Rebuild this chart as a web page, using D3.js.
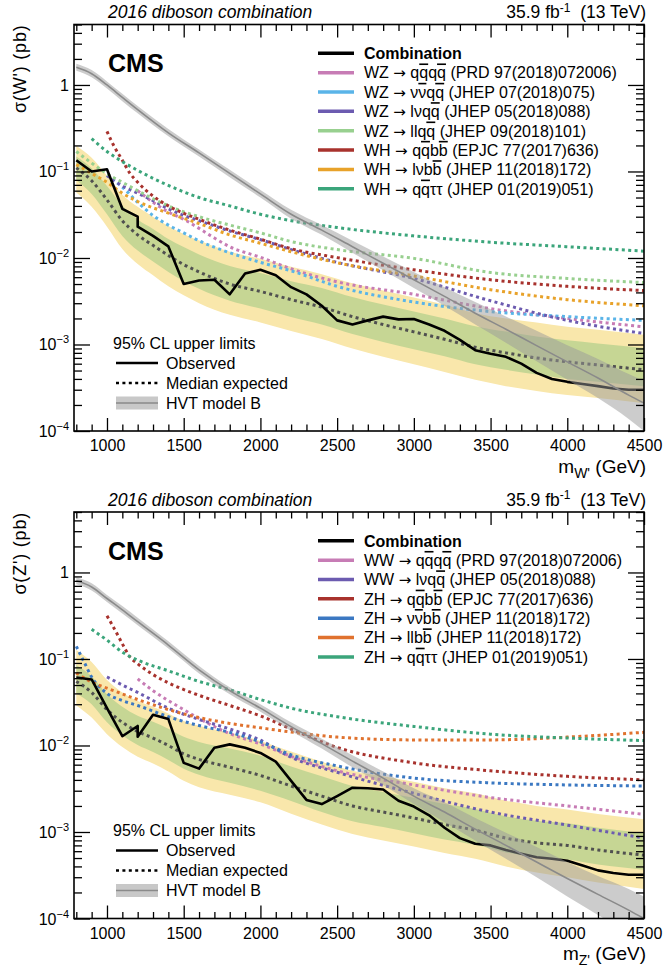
<!DOCTYPE html>
<html>
<head>
<meta charset="utf-8">
<script src="https://cdn.jsdelivr.net/npm/d3@7"></script>
<style>
body { margin: 0; background: #fff; }
svg { display: block; }
text { font-family: "Liberation Sans", Arial, Helvetica, sans-serif; fill: #000; }
</style>
</head>
<body>
<div id="chart"></div>
<script>
// ---- expected limits and bands (common mass grid, GeV) ----
var massGrid = [800, 900, 1000, 1100, 1200, 1300, 1400, 1500, 1600, 1800, 2000, 2200, 2400, 2600, 2800, 3000, 3200, 3400, 3600, 3800, 4000, 4200, 4500];

var wExp   = [0.11, 0.078, 0.047, 0.027, 0.0185, 0.014, 0.0107, 0.0084, 0.0069, 0.005, 0.0041, 0.0033, 0.0027, 0.0021, 0.0017, 0.0014, 0.00115, 0.00093, 0.0008, 0.0007, 0.00063, 0.00058, 0.00051];
var wExpP2 = [0.198, 0.144, 0.089, 0.054, 0.039, 0.030, 0.0235, 0.0189, 0.0159, 0.0118, 0.0098, 0.0079, 0.0065, 0.0051, 0.0042, 0.0035, 0.0029, 0.0023, 0.002, 0.00179, 0.0016, 0.00148, 0.0013];
var wExpP1 = [0.149, 0.109, 0.068, 0.0405, 0.0278, 0.0217, 0.0166, 0.0134, 0.011, 0.0081, 0.0067, 0.0054, 0.0045, 0.00353, 0.00289, 0.00241, 0.002, 0.00163, 0.00141, 0.00124, 0.00112, 0.00103, 0.00091];
var wExpM1 = [0.079, 0.055, 0.032, 0.018, 0.0122, 0.0091, 0.0069, 0.0054, 0.0044, 0.0032, 0.0026, 0.00208, 0.0017, 0.00132, 0.00107, 0.00088, 0.00073, 0.00059, 0.00051, 0.00045, 0.0004, 0.00037, 0.00033];
var wExpM2 = [0.057, 0.039, 0.023, 0.0127, 0.0085, 0.0063, 0.0047, 0.0037, 0.003, 0.0022, 0.0018, 0.00143, 0.00116, 0.0009, 0.00072, 0.00059, 0.00048, 0.00039, 0.00033, 0.00029, 0.00026, 0.00024, 0.00021];

var zExp   = [0.055, 0.041, 0.026, 0.0185, 0.0145, 0.0122, 0.01, 0.008, 0.0069, 0.0056, 0.0045, 0.0034, 0.0026, 0.002, 0.0017, 0.00145, 0.00122, 0.00105, 0.00085, 0.00075, 0.0007, 0.00062, 0.00054];
var zExpP2 = [0.127, 0.092, 0.057, 0.041, 0.0326, 0.028, 0.0235, 0.0192, 0.0169, 0.014, 0.0113, 0.0085, 0.0065, 0.0051, 0.0044, 0.0038, 0.0032, 0.0028, 0.0023, 0.002, 0.00182, 0.00161, 0.0014];
var zExpP1 = [0.085, 0.063, 0.039, 0.028, 0.022, 0.0188, 0.0156, 0.0126, 0.011, 0.0092, 0.0076, 0.0057, 0.0044, 0.0034, 0.0029, 0.00248, 0.0021, 0.00185, 0.00152, 0.00135, 0.00126, 0.00112, 0.00097];
var zExpM1 = [0.04, 0.03, 0.0185, 0.0131, 0.0101, 0.0084, 0.0068, 0.0054, 0.0046, 0.0037, 0.003, 0.00228, 0.0017, 0.00133, 0.00114, 0.00097, 0.00082, 0.00071, 0.00058, 0.00051, 0.00048, 0.00042, 0.000366];
var zExpM2 = [0.029, 0.021, 0.0135, 0.0096, 0.0074, 0.0062, 0.005, 0.0039, 0.0033, 0.0027, 0.0022, 0.00163, 0.00122, 0.00095, 0.0008, 0.00068, 0.00057, 0.00049, 0.0004, 0.00034, 0.0003, 0.00026, 0.00022];

// ---- observed limits ----
var wObsMass = [800, 900, 1000, 1100, 1200, 1200, 1300, 1400, 1500, 1600, 1700, 1800, 1900, 2000, 2100, 2200, 2300, 2400, 2500, 2600, 2700, 2800, 2900, 3000, 3100, 3200, 3300, 3400, 3500, 3600, 3700, 3800, 3900, 4000, 4100, 4200, 4300, 4400, 4500];
var wObs = [0.135, 0.1, 0.106, 0.037, 0.03, 0.023, 0.018, 0.0136, 0.005, 0.0055, 0.0056, 0.0038, 0.0066, 0.0073, 0.0063, 0.0046, 0.0038, 0.0028, 0.0019, 0.0017, 0.0019, 0.0021, 0.00195, 0.00197, 0.0017, 0.00144, 0.00113, 0.00086, 0.00078, 0.00072, 0.0006, 0.00047, 0.0004, 0.00037, 0.00035, 0.00033, 0.00031, 0.0003, 0.0003];

var zObsMass = [800, 900, 1000, 1100, 1200, 1200, 1300, 1400, 1500, 1600, 1700, 1800, 1900, 2000, 2100, 2200, 2300, 2400, 2500, 2600, 2700, 2800, 2900, 3000, 3100, 3200, 3300, 3400, 3500, 3600, 3700, 3800, 3900, 4000, 4100, 4200, 4300, 4400, 4500];
var zObs = [0.061, 0.058, 0.027, 0.0128, 0.0168, 0.0126, 0.0226, 0.0202, 0.0063, 0.0054, 0.0094, 0.0103, 0.0094, 0.0082, 0.0065, 0.0039, 0.00235, 0.0021, 0.0026, 0.00325, 0.0032, 0.0031, 0.0023, 0.00197, 0.00156, 0.00112, 0.00085, 0.00073, 0.0007, 0.00062, 0.00056, 0.00051, 0.00049, 0.000465, 0.00041, 0.00036, 0.000335, 0.00032, 0.00032];

// ---- HVT model B cross sections ----
var hvtMass = [800, 900, 1000, 1100, 1200, 1400, 1600, 1800, 2000, 2200, 2400, 2600, 2800, 3000, 3200, 3400, 3600, 3800, 4000, 4200, 4400, 4500];
var wHvt   = [1.6, 1.35, 1.0, 0.72, 0.52, 0.28, 0.164, 0.095, 0.055, 0.032, 0.021, 0.0135, 0.0087, 0.0056, 0.0036, 0.0023, 0.0015, 0.00097, 0.00063, 0.00041, 0.00026, 0.00021];
var wHvtHi = [1.76, 1.49, 1.1, 0.79, 0.57, 0.31, 0.18, 0.105, 0.061, 0.036, 0.024, 0.0158, 0.0104, 0.0069, 0.0046, 0.0031, 0.0021, 0.00144, 0.00098, 0.00068, 0.000455, 0.00038];
var wHvtLo = [1.46, 1.23, 0.91, 0.65, 0.47, 0.255, 0.149, 0.086, 0.05, 0.0285, 0.0185, 0.0115, 0.0072, 0.0045, 0.0028, 0.0017, 0.00105, 0.00064, 0.00039, 0.00024, 0.000138, 0.0001];
var zHvt   = [0.8, 0.68, 0.5, 0.37, 0.27, 0.145, 0.075, 0.043, 0.027, 0.0165, 0.0105, 0.0066, 0.0042, 0.0026, 0.0017, 0.00108, 0.0007, 0.00045, 0.00029, 0.00019, 0.000125, 0.0001];
var zHvtHi = [0.88, 0.75, 0.55, 0.41, 0.3, 0.16, 0.083, 0.047, 0.03, 0.0185, 0.012, 0.0077, 0.005, 0.0032, 0.0022, 0.00145, 0.00098, 0.00067, 0.00045, 0.00031, 0.00022, 0.00018];
var zHvtLo = [0.73, 0.62, 0.455, 0.335, 0.245, 0.132, 0.068, 0.039, 0.0245, 0.0147, 0.0092, 0.0056, 0.0035, 0.0021, 0.0013, 0.0008, 0.00049, 0.0003, 0.00018, 0.00011, 0.000066, 0.000048];

// ---- individual channels, W' panel (median expected) ----
var wzQqqqM = [1200, 1300, 1400, 1500, 1600, 1700, 1800, 2000, 2200, 2500, 3000, 3500, 4000, 4500];
var wzQqqqV = [0.06, 0.044, 0.034, 0.028, 0.022, 0.017, 0.0135, 0.0102, 0.0075, 0.0053, 0.0038, 0.0026, 0.002, 0.0016];
var wzNnqqM = [1000, 1100, 1200, 1300, 1400, 1500, 1600, 1800, 2000, 2200, 2500, 3000, 3500, 4000, 4500];
var wzNnqqV = [0.09, 0.066, 0.044, 0.031, 0.024, 0.0195, 0.0158, 0.0115, 0.0089, 0.0071, 0.0047, 0.0031, 0.0024, 0.0021, 0.0019];
var wzLnqqM = [1000, 1100, 1200, 1300, 1400, 1500, 1600, 1800, 2000, 2200, 2500, 3000, 3500, 4000, 4500];
var wzLnqqV = [0.09, 0.068, 0.056, 0.046, 0.037, 0.031, 0.027, 0.0205, 0.0163, 0.0125, 0.0089, 0.0058, 0.0032, 0.0019, 0.00134];
var wzLlqqM = [800, 900, 1000, 1100, 1200, 1400, 1600, 1800, 2000, 2200, 2500, 3000, 3500, 4000, 4500];
var wzLlqqV = [0.17, 0.125, 0.094, 0.075, 0.06, 0.04, 0.03, 0.024, 0.0195, 0.0155, 0.0125, 0.0099, 0.0068, 0.0058, 0.0052];
var whQqbbM = [1000, 1050, 1100, 1150, 1200, 1300, 1400, 1600, 1800, 2000, 2200, 2500, 3000, 3500, 4000, 4500];
var whQqbbV = [0.29, 0.19, 0.135, 0.095, 0.075, 0.052, 0.04, 0.028, 0.021, 0.0165, 0.0128, 0.0101, 0.0073, 0.0056, 0.0047, 0.0042];
var whLnbbM = [800, 900, 1000, 1100, 1200, 1400, 1600, 1800, 2000, 2200, 2500, 3000, 3500, 4000, 4500];
var whLnbbV = [0.12, 0.095, 0.075, 0.056, 0.045, 0.033, 0.025, 0.0185, 0.0148, 0.0118, 0.0088, 0.0062, 0.0043, 0.0033, 0.0028];
var whQqttM = [900, 1000, 1100, 1200, 1400, 1600, 1800, 2000, 2200, 2500, 3000, 3500, 4000, 4500];
var whQqttV = [0.24, 0.17, 0.13, 0.103, 0.069, 0.05, 0.04, 0.032, 0.027, 0.0225, 0.018, 0.0152, 0.0135, 0.012];

// ---- individual channels, Z' panel ----
var wwQqqqM = [1200, 1300, 1400, 1500, 1600, 1800, 2000, 2200, 2500, 3000, 3500, 4000, 4500];
var wwQqqqV = [0.059, 0.043, 0.033, 0.026, 0.0205, 0.0137, 0.0104, 0.0075, 0.0051, 0.0035, 0.0025, 0.002, 0.0016];
var wwLnqqM = [1000, 1100, 1200, 1400, 1600, 1800, 2000, 2200, 2500, 3000, 3500, 4000, 4500];
var wwLnqqV = [0.062, 0.05, 0.041, 0.027, 0.02, 0.0155, 0.0115, 0.0073, 0.0049, 0.0028, 0.0017, 0.0012, 0.00085];
var zhQqbbM = [1000, 1050, 1100, 1150, 1200, 1300, 1400, 1600, 1800, 2000, 2200, 2500, 3000, 3500, 4000, 4500];
var zhQqbbV = [0.315, 0.22, 0.15, 0.105, 0.088, 0.066, 0.053, 0.038, 0.029, 0.022, 0.0155, 0.0095, 0.0063, 0.0051, 0.0044, 0.004];
var zhNnbbM = [800, 850, 900, 1000, 1100, 1200, 1400, 1600, 1800, 2000, 2200, 2500, 3000, 3500, 4000, 4500];
var zhNnbbV = [0.14, 0.093, 0.062, 0.04, 0.033, 0.029, 0.0215, 0.017, 0.0142, 0.011, 0.0078, 0.0058, 0.0042, 0.0037, 0.0035, 0.0034];
var zhLlbbM = [800, 900, 1000, 1200, 1400, 1600, 1800, 2000, 2200, 2500, 3000, 3500, 4000, 4500];
var zhLlbbV = [0.069, 0.054, 0.046, 0.034, 0.026, 0.021, 0.018, 0.016, 0.0143, 0.0125, 0.0116, 0.0116, 0.0125, 0.0142];
var zhQqttM = [900, 1000, 1100, 1200, 1400, 1600, 1800, 2000, 2200, 2500, 3000, 3500, 4000, 4500];
var zhQqttV = [0.22, 0.165, 0.12, 0.097, 0.073, 0.055, 0.044, 0.034, 0.027, 0.0215, 0.0166, 0.0135, 0.0122, 0.0114];

// ---- legend labels / colours (a character followed by \u0304 is drawn with a bar) ----
var wLabels = ["WZ \u2192 qq\u0304qq\u0304 (PRD 97(2018)072006)",
               "WZ \u2192 \u03bd\u03bd\u0304qq\u0304 (JHEP 07(2018)075)",
               "WZ \u2192 l\u03bdqq\u0304 (JHEP 05(2018)088)",
               "WZ \u2192 llqq\u0304 (JHEP 09(2018)101)",
               "WH \u2192 qq\u0304bb\u0304 (EPJC 77(2017)636)",
               "WH \u2192 l\u03bdbb\u0304 (JHEP 11(2018)172)",
               "WH \u2192 qq\u0304\u03c4\u03c4 (JHEP 01(2019)051)"];
var wColors = ["#c77cb5", "#5ab4e8", "#6c5bb0", "#98d08f", "#a8322d", "#e8a22a", "#3ba57b"];
var zLabels = ["WW \u2192 qq\u0304qq\u0304 (PRD 97(2018)072006)",
               "WW \u2192 l\u03bdqq\u0304 (JHEP 05(2018)088)",
               "ZH \u2192 qq\u0304bb\u0304 (EPJC 77(2017)636)",
               "ZH \u2192 \u03bd\u03bd\u0304bb\u0304 (JHEP 11(2018)172)",
               "ZH \u2192 llbb\u0304 (JHEP 11(2018)172)",
               "ZH \u2192 qq\u0304\u03c4\u03c4 (JHEP 01(2019)051)"];
var zColors = ["#c77cb5", "#6c5bb0", "#a8322d", "#3b78c2", "#e0722e", "#3ba57b"];

var xMajor = [1000, 1500, 2000, 2500, 3000, 3500, 4000, 4500];
var yDecades = [1e-4, 1e-3, 1e-2, 1e-1, 1];
var yLabels = ["-4", "-3", "-2", "-1", ""];

// ---------------------------------------------------------------
var width = 665, height = 969;
var svg = d3.select("#chart").append("svg")
  .attr("width", width).attr("height", height);
svg.append("rect").attr("width", width).attr("height", height).attr("fill", "#fff");

var pts = (m, v) => m.map((d, i) => ({m: d, v: v[i]}));

// writes a label into a text node: barred letters get an overline, arrow uses DejaVu
function richText(t, str) {
  var buf = "";
  var flush = () => { if (buf) { t.append("tspan").text(buf); buf = ""; } };
  for (var i = 0; i < str.length; i++) {
    var c = str[i];
    if (str[i + 1] === "\u0304") {
      flush();
      t.append("tspan").style("text-decoration", "overline").text(c);
      i++;
    } else if (c === "\u2192") {
      flush();
      t.append("tspan").style("font-family", "'DejaVu Sans'").style("font-size", "15px").text(c);
    } else {
      buf += c;
    }
  }
  flush();
}

function drawPanel(p) {
  var x = d3.scaleLinear().domain([785, 4500]).range([74, 644]);
  var y = d3.scaleLog().domain([1e-4, 5]).range([p.bottom, p.top]);
  var g = svg.append("g");

  var clipId = "clip" + p.id;
  svg.append("clipPath").attr("id", clipId).append("rect")
    .attr("x", 74).attr("y", p.top).attr("width", 570).attr("height", p.bottom - p.top);
  var plot = g.append("g").attr("clip-path", `url(#${clipId})`);

  var area = (lo, hi, ms) => d3.area()
    .x((d, i) => x(ms[i]))
    .y0((d, i) => y(lo[i]))
    .y1((d, i) => y(hi[i]))
    .curve(d3.curveMonotoneX)(ms);
  var line = d3.line().x(d => x(d.m)).y(d => y(d.v));

  /* expected bands */
  plot.append("path").attr("d", area(p.m2, p.p2, massGrid)).attr("fill", "#f9e7ab");
  plot.append("path").attr("d", area(p.m1, p.p1, massGrid)).attr("fill", "#c6d694");

  /* individual channels */
  p.channels.forEach((c, i) => {
    plot.append("path")
      .attr("d", line.curve(d3.curveMonotoneX)(pts(c[0], c[1])))
      .attr("fill", "none").attr("stroke", p.colors[i])
      .attr("stroke-width", 3).attr("stroke-dasharray", "3,3.4");
  });

  /* combined expected */
  plot.append("path")
    .attr("d", line.curve(d3.curveMonotoneX)(pts(massGrid, p.exp)))
    .attr("fill", "none").attr("stroke", "#505050")
    .attr("stroke-width", 3).attr("stroke-dasharray", "3,3.4");

  /* observed */
  plot.append("path")
    .attr("d", line.curve(d3.curveLinear)(pts(p.obsM, p.obs)))
    .attr("fill", "none").attr("stroke", "#000").attr("stroke-width", 2.6)
    .attr("stroke-linejoin", "round");

  /* HVT model B */
  plot.append("path").attr("d", area(p.hvtLo, p.hvtHi, hvtMass))
    .attr("fill", "#9a9a9a").attr("fill-opacity", 0.5);
  plot.append("path")
    .attr("d", line.curve(d3.curveMonotoneX)(pts(hvtMass, p.hvt)))
    .attr("fill", "none").attr("stroke", "#8a8a8a").attr("stroke-width", 1.6);

  // Axes (ticks inside, ROOT style)
  var xMinor = d3.range(800, 4501, 100).filter(v => v % 500 !== 0);
  var yMinor = [];
  yDecades.forEach(dd => { for (var k = 2; k <= 9; k++) if (dd * k <= 5) yMinor.push(dd * k); });

  var axes = g.append("g").attr("class", "axes");
  var ax = (gen) => axes.append("g").call(gen).call(s => s.select(".domain").remove());

  ax(d3.axisBottom(x).tickValues(xMajor).tickSize(-13).tickPadding(9).tickFormat(d3.format("d")))
    .attr("transform", `translate(0,${p.bottom})`);
  ax(d3.axisBottom(x).tickValues(xMinor).tickSize(-6.5).tickFormat(""))
    .attr("transform", `translate(0,${p.bottom})`);
  ax(d3.axisTop(x).tickValues(xMajor).tickSize(-13).tickFormat(""))
    .attr("transform", `translate(0,${p.top})`);
  ax(d3.axisTop(x).tickValues(xMinor).tickSize(-6.5).tickFormat(""))
    .attr("transform", `translate(0,${p.top})`);
  ax(d3.axisLeft(y).tickValues(yDecades).tickSize(-16).tickFormat(""))
    .attr("transform", "translate(74,0)");
  ax(d3.axisLeft(y).tickValues(yMinor).tickSize(-8).tickFormat(""))
    .attr("transform", "translate(74,0)");
  ax(d3.axisRight(y).tickValues(yDecades).tickSize(-16).tickFormat(""))
    .attr("transform", "translate(644,0)");
  ax(d3.axisRight(y).tickValues(yMinor).tickSize(-8).tickFormat(""))
    .attr("transform", "translate(644,0)");
  axes.selectAll(".tick line").attr("stroke", "#000").attr("stroke-width", 1.3);
  axes.selectAll(".tick text").style("font-size", "16px")
    .style("font-family", "'Liberation Sans', Arial, sans-serif");

  // y tick labels with exponents
  yDecades.forEach((v, i) => {
    var t = g.append("text").attr("x", 69).attr("y", y(v) + 6)
      .attr("text-anchor", "end").style("font-size", "16px");
    if (yLabels[i] === "") { t.text("1"); return; }
    t.append("tspan").text("10");
    t.append("tspan").attr("dy", -7).style("font-size", "11px").text("\u2212" + yLabels[i].slice(1));
  });

  // frame
  g.append("rect").attr("x", 74).attr("y", p.top).attr("width", 570).attr("height", p.bottom - p.top)
    .attr("fill", "none").attr("stroke", "#000").attr("stroke-width", 1.6);

  // titles
  g.append("text").attr("x", 108).attr("y", p.top - 6.3)
    .style("font-style", "italic").style("font-size", "17.5px").text("2016 diboson combination");
  var lumi = g.append("text").attr("x", 646).attr("y", p.top - 6.3)
    .attr("text-anchor", "end").style("font-size", "17.5px");
  lumi.append("tspan").text("35.9 fb");
  lumi.append("tspan").attr("dy", -6.5).style("font-size", "12px").text("-1");
  lumi.append("tspan").attr("dy", 6.5).text("\u00a0 (13 TeV)");

  g.append("text").attr("transform", `translate(26,${p.top}) rotate(-90)`)
    .attr("text-anchor", "end").style("font-size", "18px").style("letter-spacing", "0.8px")
    .text(p.yTitle);

  var xt = g.append("text").attr("x", 646).attr("y", p.bottom + 41.5)
    .attr("text-anchor", "end").style("font-size", "19px");
  xt.append("tspan").text("m");
  xt.append("tspan").attr("dy", 5).style("font-size", "14px").text(p.sub);
  xt.append("tspan").attr("dy", -5).text(" (GeV)");

  g.append("text").attr("x", 108).attr("y", p.top + 47.5)
    .style("font-size", "25px").style("font-weight", "bold").text("CMS");

  // channel legend
  var ly0 = p.top + 28.8, ldy = 19.35;
  var leg = g.append("g");
  leg.append("line").attr("x1", 318).attr("x2", 354).attr("y1", ly0).attr("y2", ly0)
    .attr("stroke", "#000").attr("stroke-width", 3.5);
  leg.append("text").attr("x", 364).attr("y", ly0 + 5.8).style("font-size", "16px")
    .style("font-weight", "bold").text("Combination");
  p.labels.forEach((lab, i) => {
    var yy = ly0 + ldy * (i + 1);
    leg.append("line").attr("x1", 318).attr("x2", 354).attr("y1", yy).attr("y2", yy)
      .attr("stroke", p.colors[i]).attr("stroke-width", 3.5);
    var t = leg.append("text").attr("x", 364).attr("y", yy + 5.8).style("font-size", "16px");
    richText(t, lab);
  });

  // limits legend
  var by = p.top + 318.5;
  g.append("text").attr("x", 113).attr("y", by + 5.8).style("font-size", "16px").text("95% CL upper limits");
  g.append("line").attr("x1", 116).attr("x2", 158).attr("y1", by + 20).attr("y2", by + 20)
    .attr("stroke", "#000").attr("stroke-width", 2.6);
  g.append("text").attr("x", 166).attr("y", by + 25.8).style("font-size", "16px").text("Observed");
  g.append("line").attr("x1", 116).attr("x2", 158).attr("y1", by + 40).attr("y2", by + 40)
    .attr("stroke", "#000").attr("stroke-width", 2.6).attr("stroke-dasharray", "3,3.4");
  g.append("text").attr("x", 166).attr("y", by + 45.8).style("font-size", "16px").text("Median expected");
  g.append("rect").attr("x", 116).attr("y", by + 53.5).attr("width", 42).attr("height", 13)
    .attr("fill", "#c8c8c8");
  g.append("line").attr("x1", 116).attr("x2", 158).attr("y1", by + 60).attr("y2", by + 60)
    .attr("stroke", "#8a8a8a").attr("stroke-width", 1.6);
  g.append("text").attr("x", 166).attr("y", by + 65.8).style("font-size", "16px").text("HVT model B");
}

drawPanel({
  id: "w", top: 24.5, bottom: 431,
  yTitle: "\u03c3(W') (pb)", sub: "W'",
  exp: wExp, p1: wExpP1, p2: wExpP2, m1: wExpM1, m2: wExpM2,
  obsM: wObsMass, obs: wObs,
  hvt: wHvt, hvtLo: wHvtLo, hvtHi: wHvtHi,
  channels: [[wzQqqqM, wzQqqqV], [wzNnqqM, wzNnqqV], [wzLnqqM, wzLnqqV], [wzLlqqM, wzLlqqV],
             [whQqbbM, whQqbbV], [whLnbbM, whLnbbV], [whQqttM, whQqttV]],
  labels: wLabels, colors: wColors
});

drawPanel({
  id: "z", top: 512, bottom: 918.5,
  yTitle: "\u03c3(Z') (pb)", sub: "Z'",
  exp: zExp, p1: zExpP1, p2: zExpP2, m1: zExpM1, m2: zExpM2,
  obsM: zObsMass, obs: zObs,
  hvt: zHvt, hvtLo: zHvtLo, hvtHi: zHvtHi,
  channels: [[wwQqqqM, wwQqqqV], [wwLnqqM, wwLnqqV], [zhQqbbM, zhQqbbV], [zhNnbbM, zhNnbbV],
             [zhLlbbM, zhLlbbV], [zhQqttM, zhQqttV]],
  labels: zLabels, colors: zColors
});
</script>
</body>
</html>
